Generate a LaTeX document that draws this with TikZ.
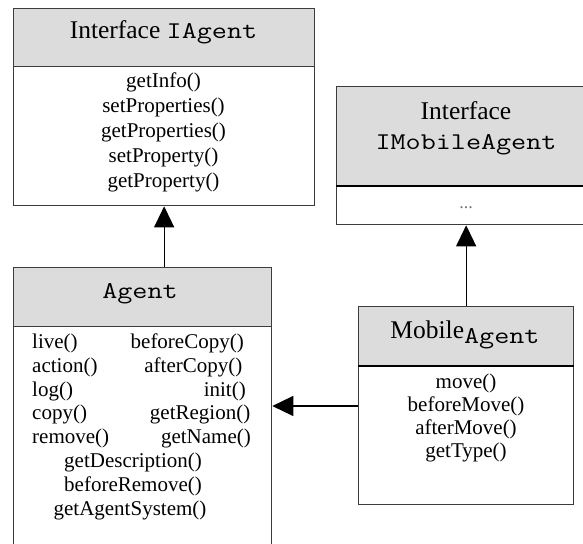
\documentclass[tikz,border=0pt]{standalone}
\usepackage{fontspec}
\setmainfont{Liberation Serif}
\newfontfamily\codefont{Latin Modern Mono}[FakeStretch=1.22]
\newcommand\codetxt[1]{{\codefont\fontsize{24}{28}\selectfont #1}}
\usetikzlibrary{arrows.meta}
\definecolor{hdrgray}{HTML}{DCDCDC}
\definecolor{edgegray}{HTML}{3C3C3C}
\begin{document}
\begin{tikzpicture}[x=1pt,y=-1pt,
  box/.style={draw=edgegray, line width=1.3pt, inner sep=0pt, anchor=north west},
  hdr/.style={box, fill=hdrgray},
  ttl/.style={font=\fontsize{25.5}{30}\selectfont, inner sep=0pt, anchor=base},
  meth/.style={font=\fontsize{21}{25}\selectfont, inner sep=0pt},
  inh/.style={draw=black, line width=1.3pt, -{Triangle[length=21pt,width=20pt]}},
  sepline/.style={draw=black, line width=2.2pt}]
\useasboundingbox (0,0) rectangle (583,543);

% ---- interface IAgent ----
\node[hdr, minimum width=301pt, minimum height=58pt] (iahead) at (13,8) {};
\node[box, minimum width=301pt, minimum height=139pt] (iabody) at (13,66) {};
\node[ttl] (iatitle) at (163.5,39) {Interface \codetxt{IAgent}};
\foreach \m [count=\i from 0] in {getInfo(), setProperties(), getProperties(), setProperty(), getProperty()}
  \node[meth, anchor=base] (iam\i) at (163.5,{87.5+25*\i}) {\m};

% ---- class Agent ----
\node[hdr, minimum width=258pt, minimum height=59pt] (aghead) at (13,267) {};
\node[box, minimum width=258pt, minimum height=240pt] (agbody) at (13,326) {};
\node[ttl] (agtitle) at (140,298) {\codetxt{Agent}};
\foreach \m [count=\i from 0] in {live(), action(), log(), copy(), remove()}
  \node[meth, anchor=base west] (agl\i) at (32,{348.5+23.8*\i}) {\m};
\foreach \m/\x [count=\i from 0] in {beforeCopy()/244, afterCopy()/242.5, init()/246, getRegion()/250.5, getName()/251}
  \node[meth, anchor=base east] (agr\i) at (\x,{348.5+23.8*\i}) {\m};
\foreach \m/\x [count=\i from 5] in {getDescription()/133, beforeRemove()/133, getAgentSystem()/130}
  \node[meth, anchor=base] (agc\i) at (\x,{348.5+23.8*\i}) {\m};

% ---- interface IMobileAgent ----
\node[hdr, minimum width=260pt, minimum height=99pt] (imhead) at (336,86) {};
\node[box, minimum width=260pt, minimum height=39pt] (imbody) at (336,185) {};
\draw[sepline] (imhead.south west) -- (imhead.south east);
\node[ttl] (imt1) at (466,119) {Interface};
\node[ttl] (imt2) at (466,149) {\codetxt{IMobileAgent}};
\node[font=\fontsize{18}{20}\selectfont, text=black!55, inner sep=0pt, anchor=base] (imdots) at (466,208) {...};

% ---- class MobileAgent ----
\node[hdr, minimum width=215pt, minimum height=59pt] (mahead) at (358,306) {};
\node[box, minimum width=215pt, minimum height=139pt] (mabody) at (358,365) {};
\draw[sepline] (mahead.south west) -- (mahead.south east);
\node[ttl] (matitle) at (465,338.5) {Mobile\raisebox{-5pt}{\codetxt{Agent}}};
\foreach \m [count=\i from 0] in {move(), beforeMove(), afterMove(), getType()}
  \node[meth, anchor=base] (mam\i) at (466,{388+23.3*\i}) {\m};

% ---- inheritance links ----
\coordinate (lnk) at (0,406);
\draw[inh] (iabody.south |- aghead.north) -- (iabody.south);
\draw[inh] (mahead.north) -- (mahead.north |- imbody.south);
\draw[inh] (mabody.west |- lnk) -- (agbody.east |- lnk);
\end{tikzpicture}
\end{document}
